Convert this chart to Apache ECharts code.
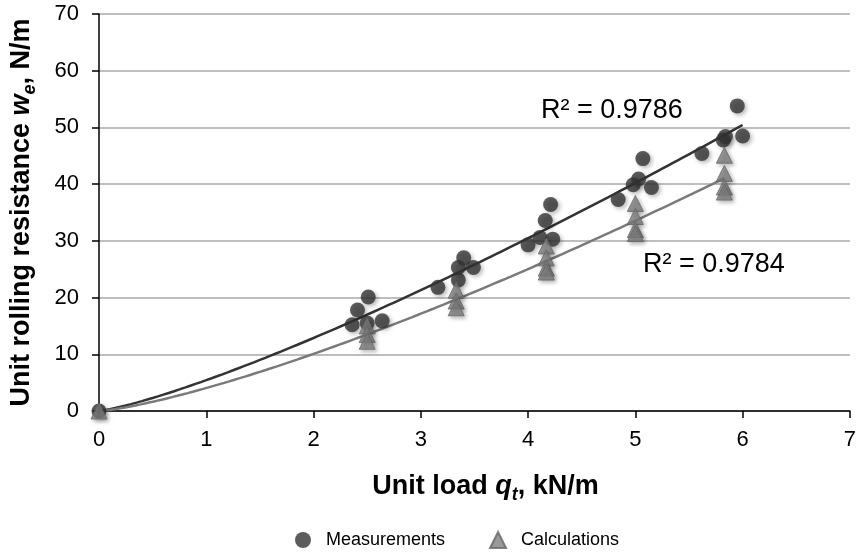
<!DOCTYPE html>
<html><head><meta charset="utf-8">
<script src="https://cdn.jsdelivr.net/npm/echarts@6/dist/echarts.min.js"></script>
<style>html,body{margin:0;padding:0;background:#fff}#c{width:859px;height:560px}</style>
</head><body><div id="c"></div>
<script>
var measX = [0, 2.36, 2.41, 2.51, 2.50, 2.64, 3.16, 3.35, 3.35, 3.40, 3.49, 4.00, 4.11, 4.16, 4.21, 4.23, 4.84, 4.98, 5.03, 5.15, 5.07, 5.62, 5.82, 5.84, 5.95, 6.00];
var measY = [0, 15.2, 17.8, 20.1, 15.5, 15.9, 21.8, 23.1, 25.3, 27.0, 25.3, 29.3, 30.6, 33.6, 36.4, 30.3, 37.3, 39.9, 40.9, 39.4, 44.5, 45.4, 47.8, 48.4, 53.8, 48.5];
var calcX = [0, 2.5, 2.5, 2.5, 3.33, 3.33, 3.33, 4.17, 4.17, 4.17, 4.17, 5.0, 5.0, 5.0, 5.0, 5.83, 5.83, 5.83, 5.83];
var calcY = [0, 15.0, 13.5, 12.3, 21.3, 19.4, 18.2, 29.1, 27.0, 25.2, 24.5, 36.6, 34.3, 32.0, 31.3, 45.1, 41.9, 39.5, 38.6];
var xTicks = [0, 1, 2, 3, 4, 5, 6, 7];
var yTicks = [0, 10, 20, 30, 40, 50, 60, 70];
var r2Meas = 'R\u00b2 = 0.9786';
var r2Calc = 'R\u00b2 = 0.9784';

function powerFit(xs, ys) {
  var n = 0, sx = 0, sy = 0, sxx = 0, sxy = 0;
  for (var i = 0; i < xs.length; i++) {
    if (xs[i] <= 0 || ys[i] <= 0) continue;
    var lx = Math.log(xs[i]), ly = Math.log(ys[i]);
    n++; sx += lx; sy += ly; sxx += lx * lx; sxy += lx * ly;
  }
  var b = (n * sxy - sx * sy) / (n * sxx - sx * sx);
  var a = Math.exp((sy - b * sx) / n);
  return {a: a, b: b};
}
function curve(xs, ys) {
  var f = powerFit(xs, ys), xmax = Math.max.apply(null, xs), pts = [];
  for (var i = 0; i <= 120; i++) { var x = xmax * i / 120; pts.push([x, x === 0 ? 0 : f.a * Math.pow(x, f.b)]); }
  return pts;
}
function pairs(xs, ys) { return xs.map(function (x, i) { return [x, ys[i]]; }); }

var font = 'Liberation Sans, Arial, sans-serif';
var nameRich = {
  b: {fontSize: 27, fontWeight: 'bold', color: '#000', fontFamily: font},
  bi: {fontSize: 27, fontWeight: 'bold', fontStyle: 'italic', color: '#000', fontFamily: font},
  sub: {fontSize: 18, fontWeight: 'bold', fontStyle: 'italic', color: '#000', fontFamily: font, padding: [16, 0, 0, 0]}
};
var chart = echarts.init(document.getElementById('c'));
chart.setOption({
  animation: false,
  textStyle: {fontFamily: font},
  grid: {left: 99, right: 7, top: 14, bottom: 149, containLabel: false},
  xAxis: {
    type: 'value', min: 0, max: 7, interval: 1,
    name: '{b|Unit load }{bi|q}{sub|t}{b|, kN/m}', nameLocation: 'middle', nameGap: 59,
    nameTextStyle: {rich: nameRich, padding: [0, 0, 0, 22]},
    axisLine: {lineStyle: {color: '#000', width: 1.5}},
    axisTick: {show: true, length: 7, lineStyle: {color: '#000', width: 1.5}},
    axisLabel: {fontSize: 22, color: '#000', margin: 18, fontFamily: font,
      formatter: function (v) { return xTicks.indexOf(v) >= 0 ? String(v) : ''; }},
    splitLine: {show: false}
  },
  yAxis: {
    type: 'value', min: 0, max: 70, interval: 10,
    name: '{b|Unit rolling resistance }{bi|w}{sub|e}{b|, N/m}', nameLocation: 'middle', nameGap: 60,
    nameTextStyle: {rich: nameRich},
    axisLine: {show: true, lineStyle: {color: '#000', width: 1.5}},
    axisTick: {show: true, length: 7, lineStyle: {color: '#000', width: 1.5}},
    axisLabel: {fontSize: 22, color: '#000', margin: 20, fontFamily: font,
      formatter: function (v) { return yTicks.indexOf(v) >= 0 ? String(v) : ''; }},
    splitLine: {show: true, lineStyle: {color: '#a8a8a8', width: 1.5}}
  },
  legend: {
    bottom: 6, left: 290, itemGap: 44, itemWidth: 16, itemHeight: 16,
    textStyle: {fontSize: 18, color: '#000', fontFamily: font, padding: [0, 0, 0, 10]},
    data: [{name: 'Measurements', icon: 'circle'}, {name: 'Calculations', icon: 'triangle'}]
  },
  series: [
    {name: 'Measurements trend', type: 'line', data: curve(measX, measY), showSymbol: false, smooth: false,
     lineStyle: {color: '#333333', width: 2.5}, z: 3, silent: true},
    {name: 'Calculations trend', type: 'line', data: curve(calcX, calcY), showSymbol: false, smooth: false,
     lineStyle: {color: '#7a7a7a', width: 2.5}, z: 3, silent: true},
    {name: 'Measurements', type: 'scatter', data: pairs(measX, measY), symbol: 'circle', symbolSize: 15,
     itemStyle: {color: '#333333', shadowBlur: 4, shadowOffsetX: 2, shadowOffsetY: 2, shadowColor: 'rgba(0,0,0,0.35)'}, z: 4},
    {name: 'Calculations', type: 'scatter', data: pairs(calcX, calcY), symbol: 'triangle', symbolSize: 16,
     itemStyle: {color: '#808080', borderColor: '#666', borderWidth: 1, shadowBlur: 4, shadowOffsetX: 2, shadowOffsetY: 2, shadowColor: 'rgba(0,0,0,0.35)'}, z: 5}
  ],
  graphic: [
    {type: 'text', x: 541, y: 111, style: {text: r2Meas, font: '27px ' + font, fill: '#000', verticalAlign: 'middle'}},
    {type: 'text', x: 643, y: 265, style: {text: r2Calc, font: '27px ' + font, fill: '#000', verticalAlign: 'middle'}}
  ]
});
</script></body></html>
